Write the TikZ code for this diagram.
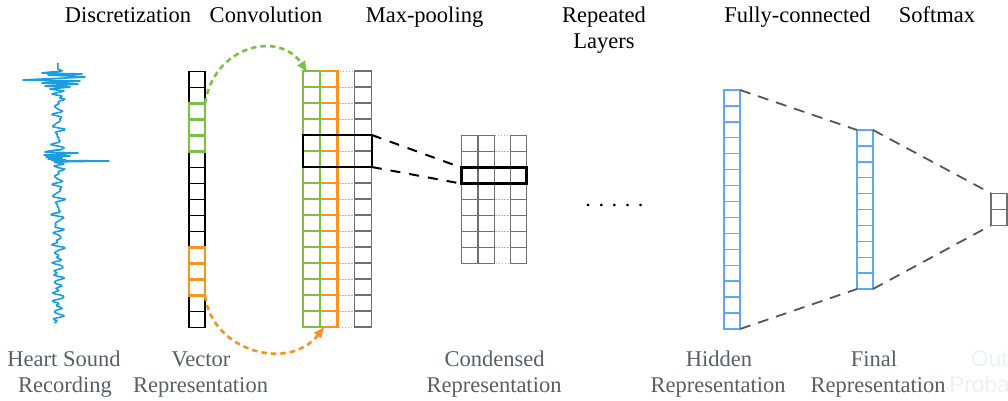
\documentclass[tikz,border=0pt]{standalone}
\usepackage{fontspec}
\setmainfont{Liberation Serif}
\newfontfamily\outfont{Liberation Sans}
\usetikzlibrary{arrows.meta,calc}
\definecolor{wblue}{RGB}{28,158,222}
\definecolor{cgreen}{RGB}{122,193,67}
\definecolor{corange}{RGB}{247,148,30}
\definecolor{hblue}{RGB}{95,170,235}
\definecolor{lgray}{RGB}{88,94,102}
\definecolor{cellgray}{RGB}{110,110,115}
\definecolor{dashgray}{RGB}{85,85,90}
\definecolor{faint}{RGB}{238,240,244}
\begin{document}
\begin{tikzpicture}[x=1pt,y=-1pt,
  toplbl/.style={font=\fontsize{22.5}{26}\selectfont, anchor=base, inner sep=0pt, text=black},
  botlbl/.style={toplbl, text=lgray},
  outlbl/.style={font=\outfont\fontsize{22.5}{26}\selectfont, anchor=base, inner sep=0pt, text=faint},
  box/.style={rectangle, inner sep=0pt, outer sep=0pt},
  vcell/.style={draw=black, line width=1.2},
  gcell/.style={draw=cgreen, line width=2.4},
  ocell/.style={draw=corange, line width=2.4},
  ghost/.style={draw=gray!60, dotted, line width=1},
  gcellb/.style={draw=cellgray, line width=1.3},
  hcell/.style={draw=hblue, line width=1.4},
  hilite/.style={box, draw=black, line width=2.5},
  conv/.style={dash pattern=on 5.5pt off 4pt, line width=2.6},
  blkdash/.style={draw=black, line width=2, dash pattern=on 10pt off 9pt},
  grydash/.style={draw=dashgray, line width=1.8, dash pattern=on 11pt off 8pt},
  wave/.style={draw=wblue, line width=1.6, line join=round}
]
\useasboundingbox (0,0) rectangle (1008,400);

% ---------- waveform ----------
\draw[wave] plot[smooth, tension=0.3] coordinates {(58,63) (58,69) (62,71) (42,73) (82,74) (48,75) (85,77) (23,80) (80,81) (42,83) (78,84) (45,86) (70,87) (50,89) (64,91) (52,94) (62,96) (59.6,98)}
  -- plot[domain=0:52, samples=48, variable=\t] ({58+3.5*sin(37*\t)+2.5*sin(59*\t+40)+1.4*sin(83*\t)+1.2*sin(23*\t+10)}, {98+\t})
  -- plot[smooth, tension=0.3] coordinates {(56,150) (45,152) (78,153) (44,155) (70,156) (46,157) (62,158) (48,159) (66,160) (52,160.5) (109,161) (55,162) (64,164) (54,166) (59.6,168)}
  -- plot[domain=0:155, samples=140, variable=\t] ({58+3.5*sin(37*\t)+2.5*sin(59*\t+40)+1.4*sin(83*\t)+1.2*sin(23*\t+10)}, {168+\t});

% ---------- vector representation ----------
\foreach \i in {0,...,15} \draw[vcell] (189,71.5+16*\i) rectangle ++(16,16);
\foreach \i in {2,3,4} \draw[gcell] (189,71.5+16*\i) rectangle ++(16,16);
\foreach \i in {11,12,13} \draw[ocell] (189,71.5+16*\i) rectangle ++(16,16);
\node[box, minimum width=16pt, minimum height=48pt] (gblk) at (197,127.5) {};
\node[box, minimum width=16pt, minimum height=48pt] (oblk) at (197,271.5) {};

% ---------- convolution maps ----------
\foreach \i in {0,...,15} \draw[ghost] (337.4,71+16*\i) rectangle ++(17.2,16);
\foreach \i in {0,...,15} \draw[gcellb] (354.6,71+16*\i) rectangle ++(17.2,16);
\foreach \i in {0,...,15} \draw[ocell, line width=2.2] (320.2,71+16*\i) rectangle ++(17.2,16);
\foreach \i in {0,...,15} \draw[gcell, line width=2.2] (303,71+16*\i) rectangle ++(17.2,16);
\node[box, minimum width=17.2pt, minimum height=256pt] (gcol) at (311.6,199) {};
\node[box, minimum width=17.2pt, minimum height=256pt] (ocol) at (328.8,199) {};
\node[hilite, minimum width=68.8pt, minimum height=32pt] (hlA) at (337.4,151) {};

% convolution arrows
\draw[conv, draw=cgreen, -{Latex[length=12pt,width=10pt]}] (gblk.north east) .. controls (214,45) and (280,30) .. ([xshift=-4pt,yshift=-2pt]gcol.north);
\draw[conv, draw=corange, -{Latex[length=12pt,width=10pt]}] (oblk.south east) .. controls (212,352) and (290,372) .. ([xshift=-4pt,yshift=1pt]ocol.south);

% ---------- condensed representation ----------
\foreach \i in {0,...,7} {
  \draw[ghost] (494.2,135.7+16*\i) rectangle ++(16.25,16);
  \draw[gcellb] (461.7,135.7+16*\i) rectangle ++(16.25,16);
  \draw[gcellb] (477.95,135.7+16*\i) rectangle ++(16.25,16);
  \draw[gcellb] (510.45,135.7+16*\i) rectangle ++(16.25,16);
}
\node[hilite, minimum width=65pt, minimum height=16pt] (hlB) at (494.2,175.7) {};
\draw[blkdash] (hlA.north east) -- (hlB.north west);
\draw[blkdash] (hlA.south east) -- (hlB.south west);

% dots
\node[toplbl] (dots) at (614.5,206.5) {. . . . .};

% ---------- fully connected ----------
\foreach \i in {0,...,14} \draw[hcell] (724,90+15.93*\i) rectangle ++(16,15.93);
\node[box, minimum width=16pt, minimum height=239pt] (hid) at (732,209.5) {};
\foreach \i in {0,...,9} \draw[hcell] (857,130+15.9*\i) rectangle ++(16,15.9);
\node[box, minimum width=16pt, minimum height=159pt] (fin) at (865,209.5) {};
\foreach \i in {0,1} \draw[gcellb, line width=1.5] (991,193.3+16*\i) rectangle ++(16,16);
\node[box, minimum width=16pt, minimum height=32pt] (outp) at (999,209.3) {};
\draw[grydash] (hid.north east) -- (fin.north west);
\draw[grydash] (hid.south east) -- (fin.south west);
\draw[grydash] (fin.north east) -- (outp.north west);
\draw[grydash] (fin.south east) -- (outp.south west);

% ---------- top labels ----------
\node[toplbl] (tDisc) at (128,22.7) {Discretization};
\node[toplbl] (tConv) at (266,22.7) {Convolution};
\node[toplbl] (tMax) at (424.5,22.7) {Max-pooling};
\node[toplbl] (tRep1) at (604,22.7) {Repeated};
\node[toplbl] (tRep2) at (604,48.3) {Layers};
\node[toplbl] (tFC) at (797.5,22.7) {Fully-connected};
\node[toplbl] (tSoft) at (937,22.7) {Softmax};

% ---------- bottom labels ----------
\node[botlbl] (bHS1) at (64,366) {Heart Sound};
\node[botlbl] (bHS2) at (65,392.5) {Recording};
\node[botlbl] (bV1) at (201,366) {Vector};
\node[botlbl] (bV2) at (200.5,392.5) {Representation};
\node[botlbl] (bC1) at (494.5,366) {Condensed};
\node[botlbl] (bC2) at (494,392.5) {Representation};
\node[botlbl] (bH1) at (719,366) {Hidden};
\node[botlbl] (bH2) at (718,392.5) {Representation};
\node[botlbl] (bF1) at (874,366) {Final};
\node[botlbl] (bF2) at (878,392.5) {Representation};
\node[outlbl] (bO1) at (1005,366) {Output};
\node[outlbl] (bO2) at (1002,392.5) {Probability};
\end{tikzpicture}
\end{document}
